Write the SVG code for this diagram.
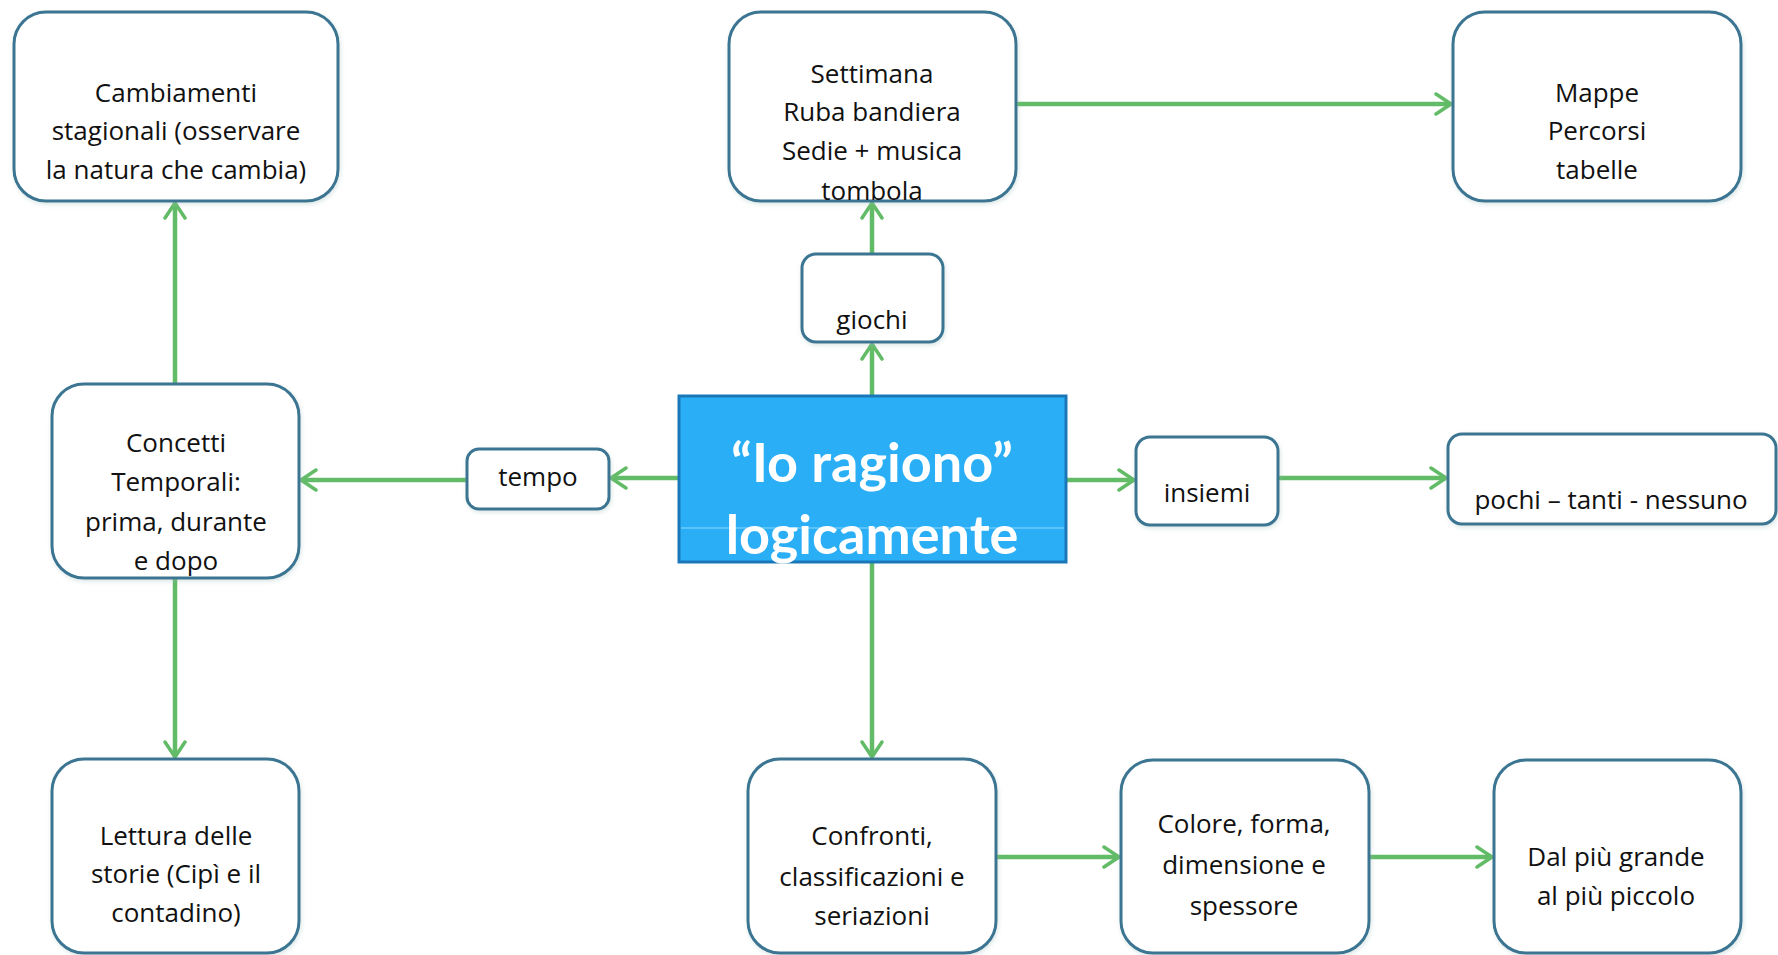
<svg xmlns="http://www.w3.org/2000/svg" width="1778" height="955" viewBox="0 0 1778 955">
<defs>
<marker id="arr" markerUnits="userSpaceOnUse" markerWidth="22" markerHeight="26" viewBox="0 0 22 26" refX="20" refY="13" orient="auto">
<path d="M5,3 L20,13 L5,23" fill="none" stroke="#62bb66" stroke-width="3.5" stroke-linecap="round" stroke-linejoin="round"/>
</marker>
<filter id="sh" x="-10%" y="-10%" width="120%" height="120%">
<feGaussianBlur in="SourceAlpha" stdDeviation="2"/>
<feOffset dx="1" dy="2" result="b"/>
<feFlood flood-color="#9bb" flood-opacity="0.35"/>
<feComposite in2="b" operator="in"/>
<feMerge><feMergeNode/><feMergeNode in="SourceGraphic"/></feMerge>
</filter>
</defs>
<style>
.box{fill:#fff;stroke:#3a7592;stroke-width:3;filter:url(#sh)}
.t{font-family:"Open Sans","Noto Sans",sans-serif;font-size:26px;fill:#111;text-anchor:middle}
.c{fill:none;stroke:#62bb66;stroke-width:4.5;marker-end:url(#arr)}
.ct{font-family:"Lato","Open Sans",sans-serif;font-weight:bold;font-size:54px;fill:#fff;text-anchor:middle}
</style>
<rect width="1778" height="955" fill="#fff"/>
<g id="connectors">
<line class="c" x1="175" y1="383" x2="175" y2="203"/>
<line class="c" x1="175" y1="578" x2="175" y2="757"/>
<line class="c" x1="467" y1="480" x2="301" y2="480"/>
<line class="c" x1="679" y1="478" x2="611" y2="478"/>
<line class="c" x1="872" y1="396" x2="872" y2="344"/>
<line class="c" x1="872" y1="254" x2="872" y2="203"/>
<line class="c" x1="1016" y1="104" x2="1451" y2="104"/>
<line class="c" x1="1066" y1="480" x2="1134" y2="480"/>
<line class="c" x1="1278" y1="478" x2="1446" y2="478"/>
<line class="c" x1="872" y1="562" x2="872" y2="757"/>
<line class="c" x1="996" y1="857" x2="1119" y2="857"/>
<line class="c" x1="1369" y1="857" x2="1492" y2="857"/>
</g>
<g id="cambiamenti">
<rect class="box" x="14" y="12" width="324" height="189" rx="32"/>
<text class="t" x="176" y="102">Cambiamenti</text>
<text class="t" x="176" y="140">stagionali (osservare</text>
<text class="t" x="176" y="179">la natura che cambia)</text>
</g>
<g id="settimana">
<rect class="box" x="729" y="12" width="287" height="189" rx="32"/>
<text class="t" x="872" y="83">Settimana</text>
<text class="t" x="872" y="121">Ruba bandiera</text>
<text class="t" x="872" y="160">Sedie + musica</text>
<text class="t" x="872" y="200">tombola</text>
</g>
<g id="mappe">
<rect class="box" x="1453" y="12" width="288" height="189" rx="32"/>
<text class="t" x="1597" y="102">Mappe</text>
<text class="t" x="1597" y="140">Percorsi</text>
<text class="t" x="1597" y="179">tabelle</text>
</g>
<g id="giochi">
<rect class="box" x="802" y="254" width="141" height="88" rx="14"/>
<text class="t" x="872" y="329">giochi</text>
</g>
<g id="concetti">
<rect class="box" x="52" y="384" width="247" height="194" rx="32"/>
<text class="t" x="176" y="452">Concetti</text>
<text class="t" x="176" y="491">Temporali:</text>
<text class="t" x="176" y="531">prima, durante</text>
<text class="t" x="176" y="570">e dopo</text>
</g>
<g id="tempo">
<rect class="box" x="467" y="449" width="142" height="60" rx="12"/>
<text class="t" x="538" y="486">tempo</text>
</g>
<g id="centrale">
<rect x="679" y="396" width="387" height="166" fill="#2aaef5" stroke="#1a78b8" stroke-width="3"/>
<line x1="681" y1="528" x2="1064" y2="528" stroke="#5cc3f8" stroke-width="2"/>
<text class="ct" x="872" y="482">“Io ragiono”</text>
<text class="ct" x="872" y="554">logicamente</text>
</g>
<g id="insiemi">
<rect class="box" x="1136" y="437" width="142" height="88" rx="14"/>
<text class="t" x="1207" y="502">insiemi</text>
</g>
<g id="pochi">
<rect class="box" x="1448" y="434" width="328" height="90" rx="14"/>
<text class="t" x="1611" y="509">pochi – tanti - nessuno</text>
</g>
<g id="lettura">
<rect class="box" x="52" y="759" width="247" height="194" rx="32"/>
<text class="t" x="176" y="845">Lettura delle</text>
<text class="t" x="176" y="883">storie (Cipì e il</text>
<text class="t" x="176" y="922">contadino)</text>
</g>
<g id="confronti">
<rect class="box" x="748" y="759" width="248" height="194" rx="32"/>
<text class="t" x="872" y="845">Confronti,</text>
<text class="t" x="872" y="886">classificazioni e</text>
<text class="t" x="872" y="925">seriazioni</text>
</g>
<g id="colore">
<rect class="box" x="1121" y="760" width="248" height="193" rx="32"/>
<text class="t" x="1244" y="833">Colore, forma,</text>
<text class="t" x="1244" y="874">dimensione e</text>
<text class="t" x="1244" y="915">spessore</text>
</g>
<g id="dalpiu">
<rect class="box" x="1494" y="760" width="247" height="193" rx="32"/>
<text class="t" x="1616" y="866">Dal più grande</text>
<text class="t" x="1616" y="905">al più piccolo</text>
</g>
</svg>
